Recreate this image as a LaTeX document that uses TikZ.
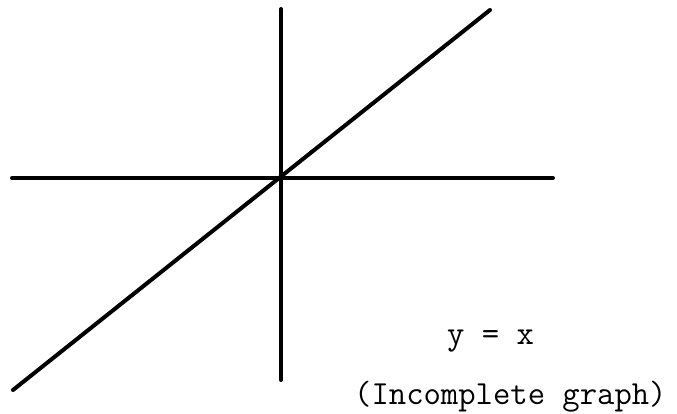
\documentclass[tikz,border=0pt]{standalone}
\begin{document}
\begin{tikzpicture}[x=1pt,y=-1pt,
  axisline/.style={line width=4pt, line cap=round},
  lbl/.style={font=\ttfamily\fontsize{33.7}{36}\selectfont, inner sep=0pt, anchor=base west}]
\useasboundingbox (0,0) rectangle (677,414);
\coordinate (xl) at (12,178);
\coordinate (xr) at (553,178);
\coordinate (yt) at (281,9);
\coordinate (yb) at (281,380);
\coordinate (dl) at (13,390);
\coordinate (dr) at (490,10);
\draw[axisline] (xl) -- (xr);
\draw[axisline] (yt) -- (yb);
\draw[axisline] (dl) -- (dr);
\node[lbl] (eq) at (447,344) {y = x};
\node[lbl] (cap) at (354,404) {(Incomplete graph)};
\end{tikzpicture}
\end{document}
